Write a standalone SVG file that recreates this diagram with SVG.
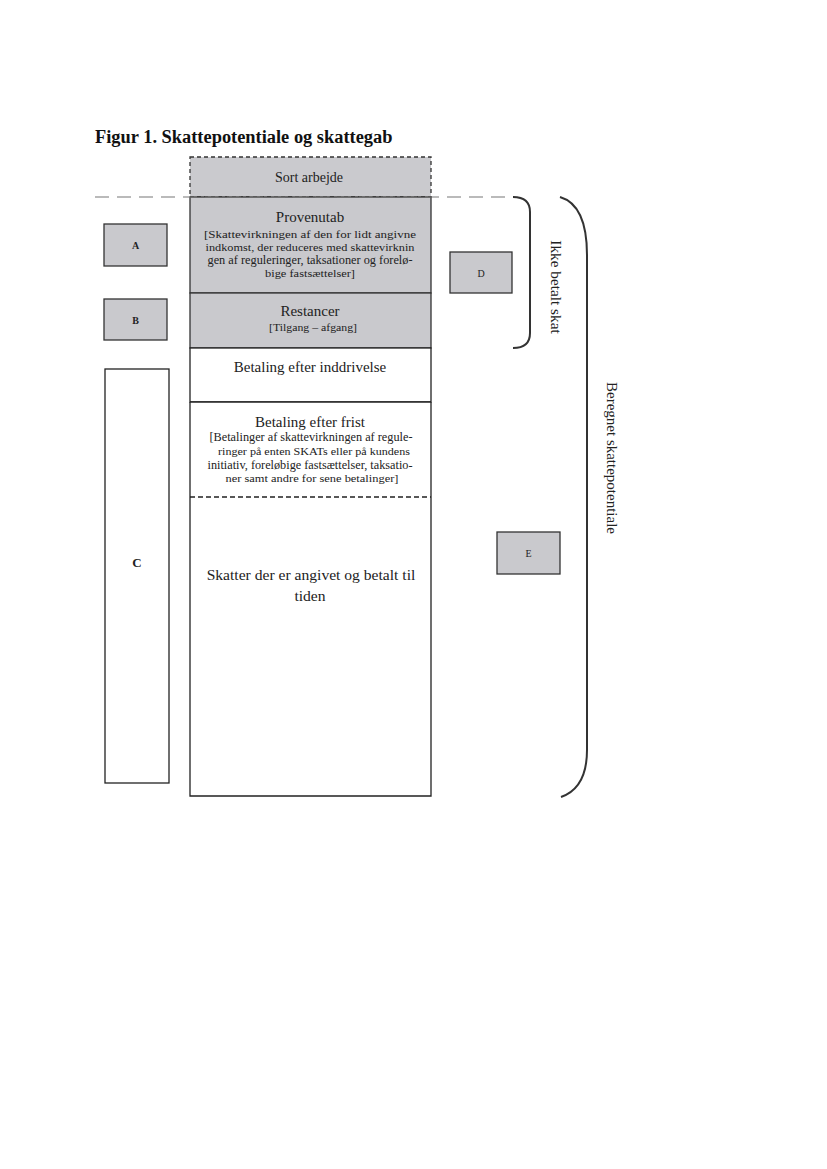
<svg xmlns="http://www.w3.org/2000/svg" width="827" height="1169" viewBox="0 0 827 1169">
<style>
.t{font-family:"Liberation Serif","Times New Roman",serif;fill:#222;text-anchor:middle}
.h{font-size:15px}
.s{font-size:11px}
.gray{fill:#c9c9cd;stroke:#333;stroke-width:1.3}
.white{fill:#fff;stroke:#222;stroke-width:1.3}
.brace{fill:none;stroke:#333;stroke-width:2}
</style>
<rect width="827" height="1169" fill="#fff"/>
<text x="95" y="143" font-family="Liberation Serif,serif" font-weight="bold" font-size="18.4" fill="#111">Figur 1. Skattepotentiale og skattegab</text>

<g id="sort-arbejde">
<rect x="190" y="157" width="241" height="40" fill="#cacace" stroke="#333" stroke-width="1.3" stroke-dasharray="4,3"/>
<text class="t" x="309" y="182" style="font-size:14px">Sort arbejde</text>
</g>
<g id="provenutab">
<rect class="gray" x="190" y="197" width="241" height="96"/>
<text class="t h" x="310" y="222">Provenutab</text>
<text class="t s" x="310" y="238" textLength="212" lengthAdjust="spacingAndGlyphs">[Skattevirkningen af den for lidt angivne</text>
<text class="t s" x="310" y="251" textLength="209" lengthAdjust="spacingAndGlyphs">indkomst, der reduceres med skattevirknin</text>
<text class="t s" x="310" y="264" style="font-size:12px" textLength="205" lengthAdjust="spacingAndGlyphs">gen af reguleringer, taksationer og forelø-</text>
<text class="t s" x="310" y="277" textLength="90" lengthAdjust="spacingAndGlyphs">bige fastsættelser]</text>
</g>
<g id="restancer">
<rect class="gray" x="190" y="293" width="241" height="55"/>
<text class="t h" x="310" y="316">Restancer</text>
<text class="t s" x="313" y="331" textLength="88" lengthAdjust="spacingAndGlyphs">[Tilgang – afgang]</text>
</g>
<g id="betaling-inddrivelse">
<rect class="white" x="190" y="348" width="241" height="54"/>
<text class="t h" x="310" y="372">Betaling efter inddrivelse</text>
</g>
<g id="betaling-frist">
<rect x="190" y="402" width="241" height="95" fill="#fff" stroke="none"/>
<line x1="190" y1="402" x2="431" y2="402" stroke="#222" stroke-width="1.3"/>
<line x1="190" y1="402" x2="190" y2="497" stroke="#222" stroke-width="1.3"/>
<line x1="431" y1="402" x2="431" y2="497" stroke="#222" stroke-width="1.3"/>
<text class="t h" x="310" y="427">Betaling efter frist</text>
<text class="t s" x="311" y="441" style="font-size:12px" textLength="203" lengthAdjust="spacingAndGlyphs">[Betalinger af skattevirkningen af regule-</text>
<text class="t s" x="314" y="455" textLength="192" lengthAdjust="spacingAndGlyphs">ringer på enten SKATs eller på kundens</text>
<text class="t s" x="310" y="469" style="font-size:11.5px" textLength="205" lengthAdjust="spacingAndGlyphs">initiativ, foreløbige fastsættelser, taksatio-</text>
<text class="t s" x="312" y="482" textLength="173" lengthAdjust="spacingAndGlyphs">ner samt andre for sene betalinger]</text>
</g>
<g id="skatter-til-tiden">
<path d="M190,497 L190,796 L431,796 L431,497" fill="#fff" stroke="#222" stroke-width="1.3"/>
<line x1="190" y1="497" x2="431" y2="497" stroke="#222" stroke-width="1.3" stroke-dasharray="5,3"/>
<text class="t" x="311" y="580" style="font-size:15.6px">Skatter der er angivet og betalt til</text>
<text class="t" x="310" y="601" style="font-size:15.6px">tiden</text>
</g>

<g id="A"><rect class="gray" x="104" y="224" width="63" height="42"/><text class="t" x="135.5" y="249" font-size="10" font-weight="bold">A</text></g>
<g id="B"><rect class="gray" x="104" y="299" width="63" height="41"/><text class="t" x="135.5" y="324" font-size="10" font-weight="bold">B</text></g>
<g id="C"><rect class="white" x="105" y="369" width="64" height="414"/><text class="t" x="137" y="567" font-size="13" font-weight="bold">C</text></g>
<g id="D"><rect class="gray" x="450" y="252" width="62" height="41"/><text class="t" x="481" y="277" font-size="10">D</text></g>
<g id="E"><rect class="gray" x="497" y="532" width="63" height="42"/><text class="t" x="528.5" y="557" font-size="10">E</text></g>

<g id="connectors">
<line x1="95" y1="197" x2="510" y2="197" stroke="#777" stroke-width="1.2" stroke-dasharray="14,8"/>
<path class="brace" d="M513,197 Q530,197 530,212 L530,333 Q530,348 513,348"/>
<path class="brace" d="M560,197 Q587,205 587,255 L587,750 Q587,788 561,797"/>
</g>
<g id="labels">
<text class="t" font-size="15.3" transform="translate(551,287) rotate(90)">Ikke betalt skat</text>
<text class="t" font-size="15" transform="translate(607,458) rotate(90)">Beregnet skattepotentiale</text>
</g>
</svg>
